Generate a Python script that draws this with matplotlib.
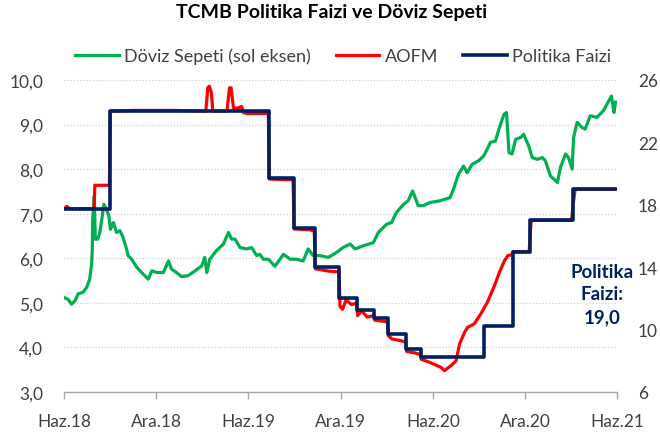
import matplotlib
matplotlib.use("Agg")
import matplotlib.pyplot as plt
import pandas as pd

plt.rcParams['font.family'] = ['Lato', 'DejaVu Sans']

# Döviz sepeti (0.5 USD + 0.5 EUR), sol eksen
doviz_tarih = [
    "2018-06-14", "2018-06-22", "2018-06-29", "2018-07-06", "2018-07-12", "2018-07-22",
    "2018-07-29", "2018-08-04", "2018-08-08", "2018-08-09", "2018-08-10", "2018-08-13",
    "2018-08-15", "2018-08-20", "2018-08-24", "2018-08-28", "2018-09-01", "2018-09-06",
    "2018-09-11", "2018-09-14", "2018-09-20", "2018-09-26", "2018-10-03", "2018-10-09",
    "2018-10-16", "2018-10-19", "2018-10-26", "2018-11-05", "2018-11-15", "2018-11-28",
    "2018-12-05", "2018-12-15", "2018-12-28", "2019-01-07", "2019-01-13", "2019-01-23",
    "2019-02-02", "2019-02-15", "2019-03-01", "2019-03-14", "2019-03-20", "2019-03-24",
    "2019-03-30", "2019-04-12", "2019-04-26", "2019-05-06", "2019-05-12", "2019-05-19",
    "2019-05-29", "2019-06-11", "2019-06-21", "2019-07-01", "2019-07-07", "2019-07-14",
    "2019-07-24", "2019-08-06", "2019-08-23", "2019-09-05", "2019-09-18", "2019-10-01",
    "2019-10-11", "2019-10-21", "2019-11-03", "2019-11-20", "2019-12-06", "2019-12-19",
    "2020-01-02", "2020-01-12", "2020-01-28", "2020-02-17", "2020-02-27", "2020-03-15",
    "2020-03-24", "2020-04-03", "2020-04-17", "2020-04-26", "2020-05-05", "2020-05-16",
    "2020-05-26", "2020-06-08", "2020-06-28", "2020-07-18", "2020-07-25", "2020-08-04",
    "2020-08-14", "2020-08-21", "2020-08-31", "2020-09-13", "2020-09-23", "2020-09-30",
    "2020-10-06", "2020-10-16", "2020-10-23", "2020-11-02", "2020-11-07", "2020-11-12",
    "2020-11-18", "2020-11-25", "2020-12-05", "2020-12-11", "2020-12-21", "2020-12-28",
    "2021-01-07", "2021-01-17", "2021-01-23", "2021-02-02", "2021-02-12", "2021-02-16",
    "2021-02-22", "2021-03-04", "2021-03-10", "2021-03-17", "2021-03-20", "2021-03-27",
    "2021-04-06", "2021-04-12", "2021-04-22", "2021-05-05", "2021-05-18", "2021-06-03",
    "2021-06-08", "2021-06-11",
]
doviz_deger = [
    5.12, 5.08, 4.97, 5.05, 5.20, 5.24,
    5.35, 5.53, 5.91, 6.20, 6.90, 7.40,
    6.43, 6.43, 6.58, 6.88, 7.21, 7.10,
    6.95, 6.65, 6.80, 6.58, 6.62, 6.47,
    6.21, 6.06, 5.98, 5.80, 5.68, 5.53,
    5.72, 5.68, 5.68, 5.94, 5.76, 5.68,
    5.59, 5.61, 5.72, 5.83, 6.02, 5.68,
    5.98, 6.17, 6.32, 6.58, 6.43, 6.43,
    6.24, 6.21, 6.24, 6.06, 6.09, 5.98,
    5.98, 5.82, 6.09, 5.98, 5.98, 5.94,
    6.21, 6.06, 6.06, 6.02, 6.13, 6.24,
    6.32, 6.21, 6.28, 6.35, 6.58, 6.77,
    6.80, 7.03, 7.21, 7.29, 7.51, 7.18,
    7.18, 7.25, 7.29, 7.36, 7.55, 7.89,
    8.07, 7.92, 8.11, 8.19, 8.30, 8.45,
    8.60, 8.63, 8.90, 9.23, 9.27, 8.37,
    8.34, 8.67, 8.71, 8.78, 8.52, 8.26,
    8.22, 8.26, 8.19, 7.85, 7.74, 7.70,
    8.04, 8.34, 8.26, 8.00, 8.71, 9.05,
    8.93, 8.90, 9.20, 9.16, 9.31, 9.64,
    9.27, 9.50,
]

# Ağırlıklı ortalama fonlama maliyeti, sağ eksen
aofm_tarih = [
    "2018-06-14", "2018-06-20", "2018-06-25", "2018-08-10", "2018-08-13", "2018-08-14",
    "2018-09-12", "2018-09-14", "2018-10-30", "2019-01-20", "2019-03-22", "2019-03-26",
    "2019-03-29", "2019-04-02", "2019-04-05", "2019-05-03", "2019-05-08", "2019-05-11",
    "2019-05-16", "2019-05-24", "2019-06-01", "2019-06-05", "2019-06-12", "2019-07-24",
    "2019-07-26", "2019-09-11", "2019-09-13", "2019-10-15", "2019-10-23", "2019-10-25",
    "2019-11-20", "2019-12-11", "2019-12-13", "2019-12-18", "2019-12-25", "2020-01-05",
    "2020-01-15", "2020-01-17", "2020-01-25", "2020-02-05", "2020-02-18", "2020-02-20",
    "2020-03-16", "2020-03-18", "2020-03-25", "2020-04-10", "2020-04-21", "2020-04-23",
    "2020-05-10", "2020-05-20", "2020-05-22", "2020-06-08", "2020-06-30", "2020-07-07",
    "2020-07-20", "2020-07-30", "2020-08-06", "2020-08-16", "2020-08-22", "2020-09-04",
    "2020-09-17", "2020-09-30", "2020-10-14", "2020-10-24", "2020-11-03", "2020-11-10",
    "2020-11-18", "2020-11-20", "2020-12-22", "2020-12-24", "2020-12-26", "2021-03-16",
    "2021-03-19", "2021-03-23", "2021-06-11",
]
aofm_deger = [
    17.75, 17.9, 17.75, 17.75, 17.9, 19.25,
    19.25, 24.0, 24.05, 24.05, 24.0, 25.5,
    25.6, 25.2, 24.0, 24.0, 25.5, 25.5,
    24.2, 24.2, 24.3, 23.9, 23.85, 23.85,
    19.65, 19.6, 16.45, 16.4, 16.3, 13.9,
    13.75, 13.7, 11.5, 11.3, 11.9, 11.6,
    11.7, 10.9, 11.2, 10.8, 10.9, 10.6,
    10.5, 9.6, 9.4, 9.3, 9.2, 8.6,
    8.5, 8.4, 8.1, 7.9, 7.58, 7.37,
    7.69, 8.0, 9.08, 9.83, 10.15, 10.36,
    11.0, 11.75, 12.8, 13.67, 14.42, 14.75,
    14.8, 15.0, 15.0, 16.2, 17.0, 17.0,
    18.0, 19.0, 19.0,
]

# TCMB politika faizi (bir hafta vadeli repo), sağ eksen
faiz_tarih = [
    "2018-06-14", "2018-09-13", "2019-07-25", "2019-09-12", "2019-10-24", "2019-12-12",
    "2020-01-16", "2020-02-19", "2020-03-17", "2020-04-22", "2020-05-21", "2020-09-24",
    "2020-11-19", "2020-12-24", "2021-03-18", "2021-06-11",
]
faiz_deger = [
    17.75, 24.0, 19.75, 16.5, 14.0, 12.0,
    11.25, 10.75, 9.75, 8.75, 8.25, 10.25,
    15.0, 17.0, 19.0, 19.0,
]

x_tick_tarih = ["2018-06-14", "2018-12-14", "2019-06-14", "2019-12-14",
                "2020-06-14", "2020-12-14", "2021-06-14"]
x_tick_etiket = ["Haz.18", "Ara.18", "Haz.19", "Ara.19", "Haz.20", "Ara.20", "Haz.21"]
sol_tick = [3, 4, 5, 6, 7, 8, 9, 10]
sag_tick = [6, 10, 14, 18, 22, 26]

YESIL = "#00B050"
KIRMIZI = "#FF0000"
LACIVERT = "#002060"
GRI = "#404040"

fig = plt.figure(figsize=(6.6, 4.39), dpi=100)
ax = fig.add_axes([64/660, 1-393/439, 553/660, 312/439])
ax2 = ax.twinx()

l1, = ax.plot(pd.to_datetime(doviz_tarih), doviz_deger, color=YESIL, lw=2.3,
              label="Döviz Sepeti (sol eksen)")
l2, = ax2.plot(pd.to_datetime(aofm_tarih), aofm_deger, color=KIRMIZI, lw=2.3,
               label="AOFM")
l3, = ax2.plot(pd.to_datetime(faiz_tarih), faiz_deger, color=LACIVERT, lw=2.6,
               drawstyle="steps-post", label="Politika Faizi")

ax.set_xlim(pd.Timestamp(x_tick_tarih[0]), pd.Timestamp(x_tick_tarih[-1]))
ax.set_ylim(3, 10)
ax2.set_ylim(6, 26)
ax.set_yticks(sol_tick)
ax.set_yticklabels([f"{v:.1f}".replace(".", ",") for v in sol_tick])
ax2.set_yticks(sag_tick)
ax2.set_yticklabels([str(v) for v in sag_tick])
ax.set_xticks(pd.to_datetime(x_tick_tarih))
ax.set_xticklabels(x_tick_etiket)

ax.grid(axis="y", color="#D0D0D0", ls=(0, (1, 1.5)), lw=0.9)
for a in (ax, ax2):
    for s in ("left", "right", "top"):
        a.spines[s].set_visible(False)
ax2.spines["bottom"].set_visible(False)
ax.spines["bottom"].set_color("#A6A6A6")
ax.spines["bottom"].set_linewidth(1.0)
ax.tick_params(axis="x", length=5, width=1.0, color="#A6A6A6", pad=10,
               labelsize=12.5, labelcolor=GRI)
ax.tick_params(axis="y", length=0, pad=15, labelsize=12.5, labelcolor=GRI)
ax2.tick_params(axis="y", length=0, pad=15, labelsize=12.5, labelcolor=GRI)

fig.text(0.503, 0.9715, "TCMB Politika Faizi ve Döviz Sepeti", ha="center", va="center",
         fontsize=14, fontweight="bold", color="black")
fig.legend(handles=[l1, l2, l3], loc="center", bbox_to_anchor=(0.52, 0.870), ncol=3,
           frameon=False, fontsize=13, handlelength=2.4, columnspacing=1.4,
           handletextpad=0.3, labelcolor=GRI)

ax2.text(pd.Timestamp("2021-05-15"), 12.3, "Politika\nFaizi:\n19,0", ha="center",
         va="center", fontsize=13.5, fontweight="bold", color=LACIVERT, linespacing=1.4)

fig.savefig("out.png", dpi=100)
